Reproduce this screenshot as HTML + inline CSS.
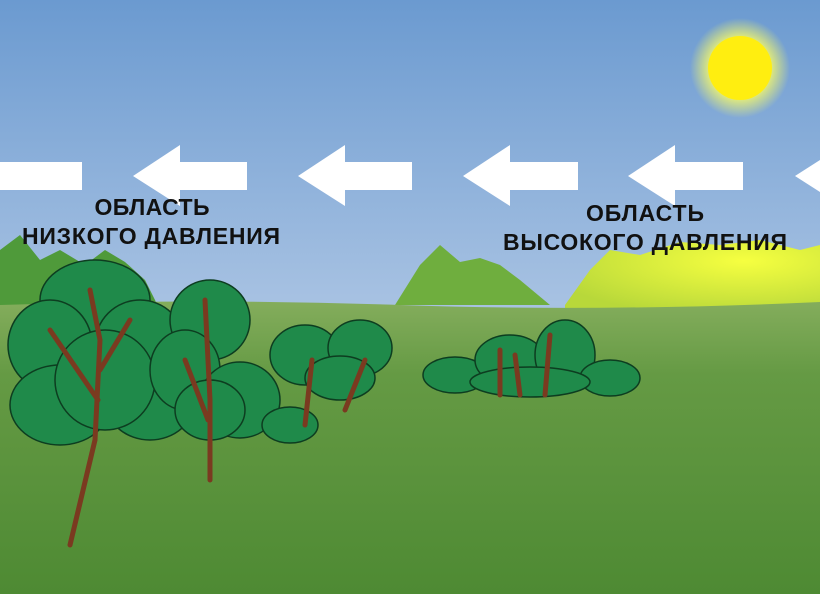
<!DOCTYPE html>
<html><head><meta charset="utf-8"><style>
html,body{margin:0;padding:0;width:820px;height:594px;overflow:hidden}
svg{display:block}
text{font-family:"Liberation Sans",sans-serif;font-weight:bold;font-size:23px;fill:#111}
</style></head><body>
<svg width="820" height="594" viewBox="0 0 820 594">
<defs>
<linearGradient id="sky" x1="0" y1="0" x2="0" y2="1">
<stop offset="0" stop-color="#6b9ad0"/><stop offset="0.5" stop-color="#a6c1e2"/><stop offset="1" stop-color="#cfdde9"/>
</linearGradient>
<linearGradient id="grass" x1="0" y1="0" x2="0" y2="1">
<stop offset="0" stop-color="#84ad5c"/><stop offset="0.25" stop-color="#659a44"/><stop offset="1" stop-color="#4e8a33"/>
</linearGradient>
<radialGradient id="glow"><stop offset="0.5" stop-color="#ffff60"/><stop offset="1" stop-color="#ffff60" stop-opacity="0"/></radialGradient>
<radialGradient id="yglow" cx="0.7" cy="0.3" r="0.8"><stop offset="0" stop-color="#f6ff40"/><stop offset="1" stop-color="#b8d83a"/></radialGradient>
</defs>
<rect width="820" height="594" fill="url(#sky)"/>
<circle cx="740" cy="68" r="50" fill="url(#glow)"/>
<circle cx="740" cy="68" r="32" fill="#ffee10"/>
<path d="M0 250 L20 235 L40 260 L60 250 L85 265 L105 250 L125 262 L145 280 L160 310 L0 310Z" fill="#4f9a3a"/>
<path d="M395 305 L420 265 L440 245 L460 262 L480 258 L500 265 L520 280 L550 305Z" fill="#6fae3e"/>
<path d="M565 305 L590 270 L610 250 L640 255 L680 242 L720 245 L760 240 L800 250 L820 245 L820 310 L565 310Z" fill="url(#yglow)"/>
<path d="M0 305 Q200 298 400 305 T820 302 L820 594 L0 594Z" fill="url(#grass)"/>
<g fill="#fff">
<rect x="0" y="162" width="82" height="28"/>
<path d="M133 176 L180 145 L180 162 L247 162 L247 190 L180 190 L180 206Z"/>
<path d="M298 176 L345 145 L345 162 L412 162 L412 190 L345 190 L345 206Z"/>
<path d="M463 176 L510 145 L510 162 L578 162 L578 190 L510 190 L510 206Z"/>
<path d="M628 176 L675 145 L675 162 L743 162 L743 190 L675 190 L675 206Z"/>
<path d="M795 176 L820 160 L820 192Z"/>
</g>
<text x="152" y="215" text-anchor="middle" textLength="115">ОБЛАСТЬ</text>
<text x="151" y="244" text-anchor="middle" textLength="258">НИЗКОГО ДАВЛЕНИЯ</text>
<text x="645" y="221" text-anchor="middle" textLength="118">ОБЛАСТЬ</text>
<text x="645" y="250" text-anchor="middle" textLength="284">ВЫСОКОГО ДАВЛЕНИЯ</text>
<g fill="#1f8a4a" stroke="#0d3d20" stroke-width="1.5">
<ellipse cx="95" cy="300" rx="55" ry="40"/>
<ellipse cx="50" cy="345" rx="42" ry="45"/>
<ellipse cx="140" cy="345" rx="45" ry="45"/>
<ellipse cx="60" cy="405" rx="50" ry="40"/>
<ellipse cx="150" cy="400" rx="45" ry="40"/>
<ellipse cx="105" cy="380" rx="50" ry="50"/>
<ellipse cx="210" cy="320" rx="40" ry="40"/>
<ellipse cx="185" cy="370" rx="35" ry="40"/>
<ellipse cx="240" cy="400" rx="40" ry="38"/>
<ellipse cx="210" cy="410" rx="35" ry="30"/>
<ellipse cx="305" cy="355" rx="35" ry="30"/>
<ellipse cx="360" cy="348" rx="32" ry="28"/>
<ellipse cx="290" cy="425" rx="28" ry="18"/>
<ellipse cx="340" cy="378" rx="35" ry="22"/>
<ellipse cx="455" cy="375" rx="32" ry="18"/>
<ellipse cx="510" cy="360" rx="35" ry="25"/>
<ellipse cx="565" cy="355" rx="30" ry="35"/>
<ellipse cx="610" cy="378" rx="30" ry="18"/>
<ellipse cx="530" cy="382" rx="60" ry="15"/>
</g>
<g stroke="#7a3a20" stroke-width="5" fill="none" stroke-linecap="round">
<path d="M70 545 L95 440 L100 340 L90 290"/><path d="M98 400 L50 330"/><path d="M100 370 L130 320"/>
<path d="M210 480 L210 400 L205 300"/><path d="M208 420 L185 360"/>
<path d="M305 425 L312 360"/><path d="M345 410 L365 360"/>
<path d="M500 395 L500 350"/><path d="M545 395 L550 335"/><path d="M520 395 L515 355"/>
</g>
</svg>
</body></html>
